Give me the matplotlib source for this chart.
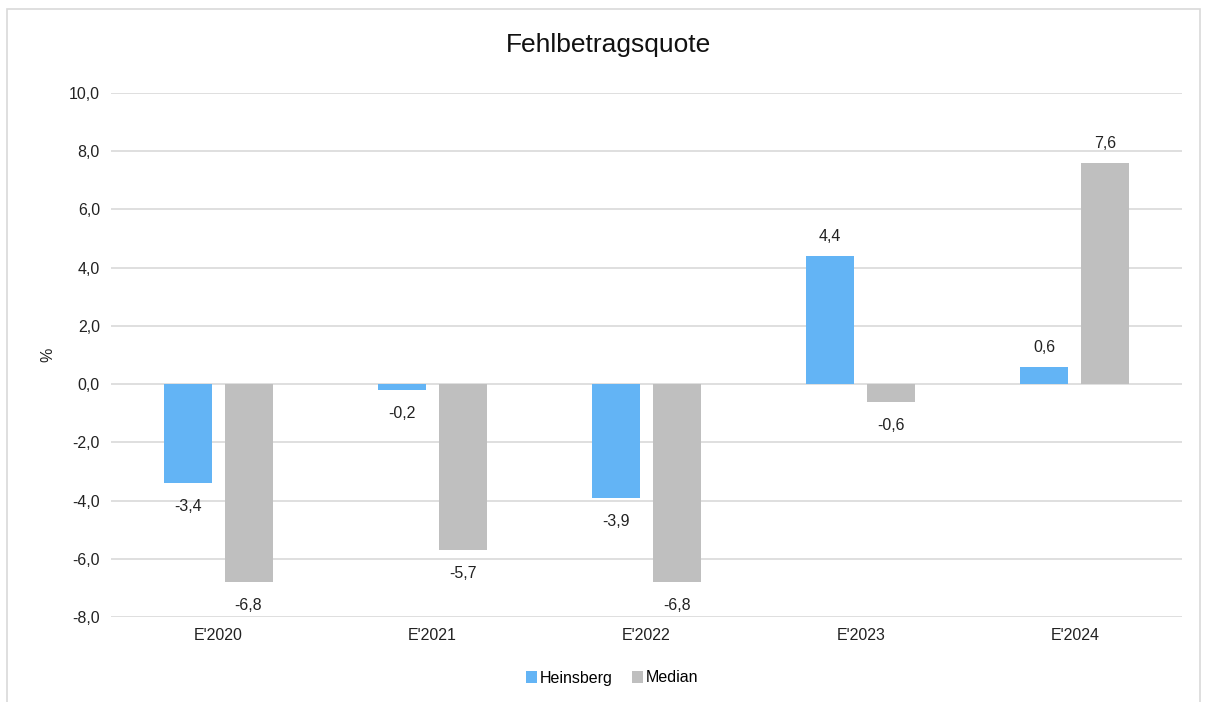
import numpy as np
import matplotlib.pyplot as plt
from matplotlib.patches import Rectangle

plt.rcParams['font.family'] = ['Liberation Sans', 'DejaVu Sans']

categories = ["E'2020", "E'2021", "E'2022", "E'2023", "E'2024"]
heinsberg = [-3.4, -0.2, -3.9, 4.4, 0.6]
median = [-6.8, -5.7, -6.8, -0.6, 7.6]
yticks = [-8, -6, -4, -2, 0, 2, 4, 6, 8, 10]

blue = '#63B4F5'
gray = '#BFBFBF'
fs = 11.5

def fmt(v):
    return f"{v:.1f}".replace('.', ',')

fig = plt.figure(figsize=(12.09, 7.02), dpi=100)
ax = fig.add_axes([111 / 1209, 1 - 617 / 702, (1182 - 111) / 1209, (617 - 93) / 702])

x = np.arange(len(categories))
w = 0.224
off = 0.142
b1 = ax.bar(x - off, heinsberg, w, color=blue, label='Heinsberg', zorder=3)
b2 = ax.bar(x + off, median, w, color=gray, label='Median', zorder=3)

for bars, vals in [(b1, heinsberg), (b2, median)]:
    for bar, v in zip(bars, vals):
        cx = bar.get_x() + bar.get_width() / 2
        dy = 14 if v >= 0 else -17
        ax.annotate(fmt(v), (cx, v), xytext=(0, dy), textcoords='offset points',
                    ha='center', va='center', fontsize=fs, color='#222222')

ax.set_xlim(-0.5, len(categories) - 0.5)
ax.set_ylim(-8, 10)
ax.set_yticks(yticks)
ax.set_yticklabels([fmt(t) for t in yticks], fontsize=fs, color='#222222')
ax.set_xticks(x)
ax.set_xticklabels(categories, fontsize=fs, color='#222222')
ax.tick_params(length=0, pad=8)
ax.grid(axis='y', color='#D9D9D9', linewidth=1.2, zorder=0)
ax.set_axisbelow(True)
for s in ax.spines.values():
    s.set_visible(False)

ax.set_ylabel('%', fontsize=fs, color='#222222', labelpad=10)
fig.text(609 / 1209, 1 - 45 / 702, 'Fehlbetragsquote', ha='center', va='center',
         fontsize=19, color='#111111')

leg = fig.legend(loc='center', bbox_to_anchor=(612 / 1209, 1 - 678 / 702), ncol=2,
                 frameon=False, fontsize=fs, handlelength=0.7, handleheight=0.7,
                 handletextpad=0.15, columnspacing=1.2)

fig.patches.append(Rectangle((7 / 1209, -0.05), (1200 - 7) / 1209, 1.05 - 9 / 702,
                             transform=fig.transFigure, fill=False,
                             edgecolor='#D9D9D9', linewidth=1.2))

plt.savefig('out.png', dpi=100)
